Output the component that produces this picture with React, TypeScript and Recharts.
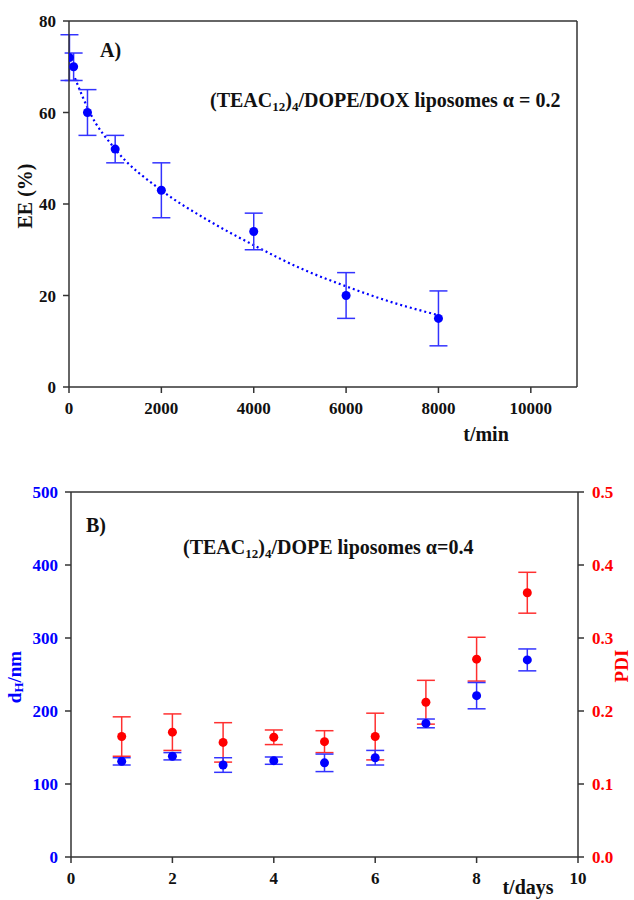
import {
  ComposedChart,
  Scatter,
  Line,
  XAxis,
  YAxis,
  ErrorBar,
  ReferenceLine,
} from "recharts";

// panel A: encapsulation efficiency vs time
const releaseTime = [10, 100, 400, 1000, 2000, 4000, 6000, 8000];
const releaseEE = [72, 70, 60, 52, 43, 34, 20, 15];
const releaseErr = [5, 3, 5, 3, 6, 4, 5, 6];

// dotted fit curve
const fitTime = [130, 450, 1000, 2000, 3000, 4000, 5000, 6000, 7000, 8000];
const fitEE = [67.5, 60, 52, 43, 36.5, 31, 26, 22, 18.5, 15.7];

const timeTicks = [0, 2000, 4000, 6000, 8000, 10000];
const eeTicks = [0, 20, 40, 60, 80];

// panel B: size and PDI vs days
const days = [1, 2, 3, 4, 5, 6, 7, 8, 9];
const dh = [131, 138, 126, 132, 129, 136, 183, 221, 270];
const dhErr = [5, 5, 10, 5, 12, 10, 6, 18, 15];
const pdi = [0.165, 0.171, 0.157, 0.164, 0.158, 0.165, 0.212, 0.271, 0.362];
const pdiErr = [0.027, 0.025, 0.027, 0.01, 0.015, 0.032, 0.03, 0.03, 0.028];

const dayTicks = [0, 2, 4, 6, 8, 10];
const dhTicks = [0, 100, 200, 300, 400, 500];
const pdiTicks = [0, 0.1, 0.2, 0.3, 0.4, 0.5];

const releaseData = releaseTime.map((t, i) => ({ t, ee: releaseEE[i], err: releaseErr[i] }));
const fitData = fitTime.map((t, i) => ({ t, ee: fitEE[i] }));
const dhData = days.map((d, i) => ({ d, v: dh[i], err: dhErr[i] }));
const pdiData = days.map((d, i) => ({ d, v: pdi[i], err: pdiErr[i] }));

const FONT = "'Liberation Serif', 'Times New Roman', serif";
const AXIS = { stroke: "#333", strokeWidth: 1.5 };
const BLUE = "#0000ff";
const RED = "#ff0000";

function dot(color: string) {
  return (props: any) => {
    if (props.cx == null || props.cy == null) return <g />;
    return <circle cx={props.cx} cy={props.cy} r={4.5} fill={color} />;
  };
}

function tick(color: string) {
  return { fill: color, fontSize: 17, fontWeight: 700, fontFamily: FONT };
}

function PanelA() {
  return (
    <ComposedChart
      width={634}
      height={450}
      margin={{ top: 21, right: 57, bottom: 23, left: 19 }}
    >
      <XAxis
        type="number"
        dataKey="t"
        domain={[0, 11000]}
        ticks={timeTicks}
        tick={tick("#111")}
        axisLine={AXIS}
        tickLine={AXIS}
        tickSize={6}
        tickMargin={9}
        height={40}
        allowDataOverflow
      />
      <YAxis
        type="number"
        domain={[0, 80]}
        ticks={eeTicks}
        tick={tick("#111")}
        axisLine={AXIS}
        tickLine={AXIS}
        tickSize={6}
        tickMargin={7}
        width={50}
      />
      <ReferenceLine y={80} stroke="#333" strokeWidth={1.5} />
      <ReferenceLine x={11000} stroke="#333" strokeWidth={1.5} />
      <Line
        data={fitData}
        dataKey="ee"
        type="monotone"
        stroke={BLUE}
        strokeWidth={2.2}
        strokeDasharray="2 3"
        dot={false}
        activeDot={false}
        isAnimationActive={false}
      />
      <Scatter data={releaseData} dataKey="ee" shape={dot(BLUE)} isAnimationActive={false}>
        <ErrorBar dataKey="err" direction="y" width={9} stroke="#3333ff" strokeWidth={1.5} />
      </Scatter>
    </ComposedChart>
  );
}

function PanelB() {
  return (
    <ComposedChart
      width={634}
      height={450}
      margin={{ top: 42, right: 16, bottom: 13, left: 21 }}
    >
      <XAxis
        type="number"
        dataKey="d"
        domain={[0, 10]}
        ticks={dayTicks}
        tick={tick("#111")}
        axisLine={AXIS}
        tickLine={AXIS}
        tickSize={6}
        tickMargin={9}
        height={30}
      />
      <YAxis
        yAxisId="dh"
        type="number"
        domain={[0, 500]}
        ticks={dhTicks}
        tick={tick(BLUE)}
        axisLine={AXIS}
        tickLine={AXIS}
        tickSize={6}
        tickMargin={7}
        width={50}
      />
      <YAxis
        yAxisId="pdi"
        orientation="right"
        type="number"
        domain={[0, 0.5]}
        ticks={pdiTicks}
        tickFormatter={(v: number) => v.toFixed(1)}
        tick={tick(RED)}
        axisLine={AXIS}
        tickLine={AXIS}
        tickSize={6}
        tickMargin={8}
        width={40}
      />
      <ReferenceLine yAxisId="dh" y={500} stroke="#333" strokeWidth={1.5} />
      <Scatter yAxisId="pdi" data={pdiData} dataKey="v" shape={dot(RED)} isAnimationActive={false}>
        <ErrorBar dataKey="err" direction="y" width={9} stroke="#ff3030" strokeWidth={1.5} />
      </Scatter>
      <Scatter yAxisId="dh" data={dhData} dataKey="v" shape={dot(BLUE)} isAnimationActive={false}>
        <ErrorBar dataKey="err" direction="y" width={9} stroke="#3333ff" strokeWidth={1.5} />
      </Scatter>
    </ComposedChart>
  );
}

function Labels() {
  return (
    <svg
      width={634}
      height={900}
      style={{ position: "absolute", left: 0, top: 0, pointerEvents: "none" }}
      fontFamily={FONT}
      fontWeight={700}
    >
      {/* panel A */}
      <text x={100} y={57} fontSize={20} fill="#111">A)</text>
      <text x={210} y={107} fontSize={20} fill="#111">
        (TEAC<tspan dy={4} fontSize={13}>12</tspan>
        <tspan dy={-4}>)</tspan>
        <tspan dy={4} fontSize={13}>4</tspan>
        <tspan dy={-4}>/DOPE/DOX liposomes α = 0.2</tspan>
      </text>
      <text
        x={25}
        y={196}
        fontSize={20}
        fill="#111"
        textAnchor="middle"
        dominantBaseline="central"
        transform="rotate(-90 25 196)"
      >
        EE (%)
      </text>
      <text x={486} y={441} fontSize={20} fill="#111" textAnchor="middle">t/min</text>

      {/* panel B */}
      <text x={86} y={532} fontSize={20} fill="#111">B)</text>
      <text x={183} y={554} fontSize={20} fill="#111">
        (TEAC<tspan dy={4} fontSize={13}>12</tspan>
        <tspan dy={-4}>)</tspan>
        <tspan dy={4} fontSize={13}>4</tspan>
        <tspan dy={-4}>/DOPE liposomes α=0.4</tspan>
      </text>
      <text
        x={14}
        y={677}
        fontSize={19}
        fill={BLUE}
        textAnchor="middle"
        dominantBaseline="central"
        transform="rotate(-90 14 677)"
      >
        d<tspan dy={4} fontSize={13}>H</tspan>
        <tspan dy={-4}>/nm</tspan>
      </text>
      <text
        x={621}
        y={666}
        fontSize={19}
        fill={RED}
        textAnchor="middle"
        dominantBaseline="central"
        transform="rotate(-90 621 666)"
      >
        PDI
      </text>
      <text x={528} y={894} fontSize={20} fill="#111" textAnchor="middle">t/days</text>
    </svg>
  );
}

export default function App() {
  return (
    <div style={{ position: "absolute", left: 0, top: 0, width: 634, height: 900, background: "#fff" }}>
      <div style={{ position: "absolute", left: 0, top: 0 }}>
        <PanelA />
      </div>
      <div style={{ position: "absolute", left: 0, top: 450 }}>
        <PanelB />
      </div>
      <Labels />
    </div>
  );
}
